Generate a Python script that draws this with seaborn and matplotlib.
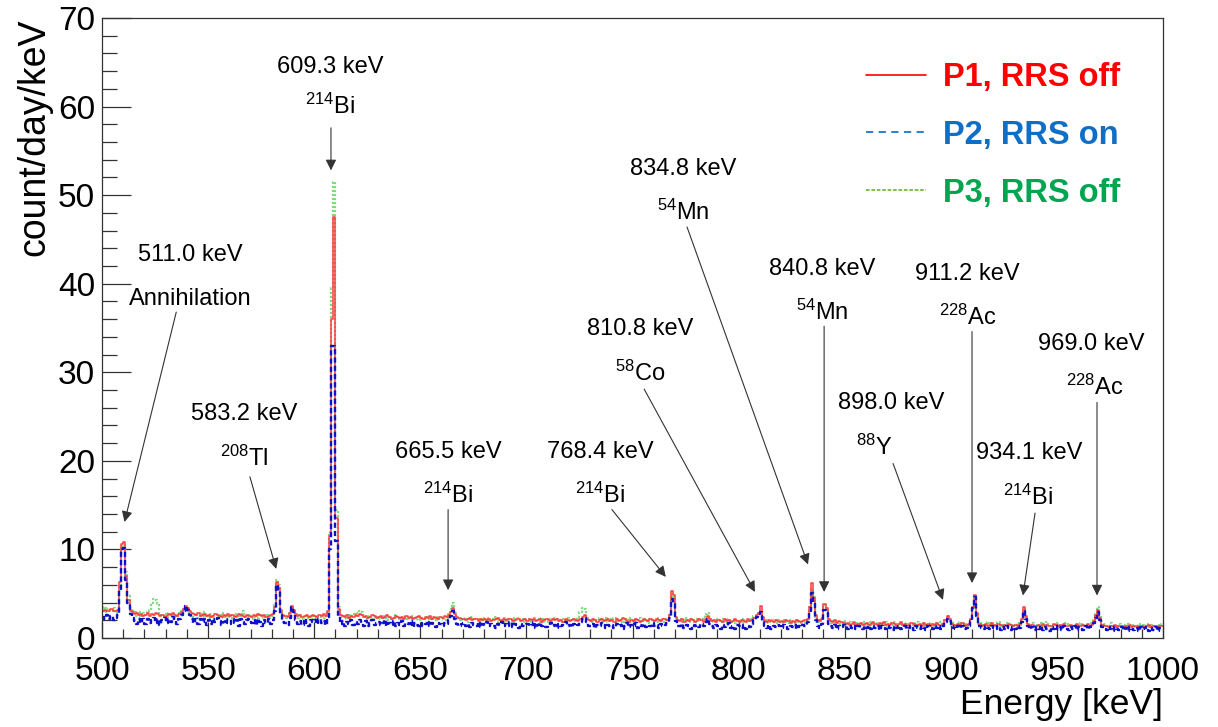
import matplotlib
matplotlib.use("Agg")
import numpy as np
import pandas as pd
import matplotlib.pyplot as plt
import seaborn as sns
from matplotlib.lines import Line2D

# Gamma-ray spectra, 1 keV bins starting at 500 keV (count/day/keV)
E_START = 500
BIN_WIDTH = 1

p1_rrs_off = [
    3.1, 3.2, 3.0, 3.1, 3.3, 3.0, 3.1, 3.2, 6.3, 10.6,
    10.8, 7.0, 4.3, 3.1, 2.9, 2.7, 2.8, 2.6, 2.7, 2.5,
    2.6, 2.8, 2.5, 2.7, 2.6, 2.8, 2.7, 2.5, 2.6, 2.4,
    2.5, 2.7, 2.6, 2.8, 2.6, 2.5, 2.7, 2.9, 3.3, 3.6,
    3.4, 3.0, 2.8, 2.7, 2.6, 2.8, 2.5, 2.6, 2.7, 2.5,
    2.6, 2.4, 2.5, 2.7, 2.6, 2.5, 2.4, 2.6, 2.5, 2.7,
    2.5, 2.6, 2.4, 2.5, 2.7, 2.6, 2.5, 2.4, 2.6, 2.5,
    2.4, 2.6, 2.5, 2.7, 2.6, 2.5, 2.6, 2.4, 2.5, 2.6,
    2.7, 3.5, 6.3, 5.7, 3.1, 2.6, 2.5, 2.4, 2.8, 3.6,
    3.2, 2.7, 2.5, 2.6, 2.4, 2.5, 2.6, 2.4, 2.5, 2.6,
    2.5, 2.4, 2.6, 2.5, 2.7, 2.5, 3.1, 11.5, 36.0, 47.5,
    13.5, 3.3, 2.6, 2.5, 2.4, 2.6, 2.3, 2.5, 2.4, 2.6,
    2.5, 2.7, 2.6, 2.4, 2.5, 2.3, 2.4, 2.6, 2.5, 2.3,
    2.4, 2.5, 2.3, 2.4, 2.6, 2.4, 2.2, 2.3, 2.5, 2.4,
    2.3, 2.4, 2.2, 2.5, 2.3, 2.4, 2.2, 2.3, 2.4, 2.5,
    2.3, 2.2, 2.4, 2.3, 2.5, 2.2, 2.4, 2.3, 2.2, 2.4,
    2.3, 2.5, 2.4, 2.6, 2.9, 3.4, 2.7, 2.4, 2.3, 2.2,
    2.2, 2.0, 2.1, 2.3, 2.0, 2.1, 2.2, 1.9, 2.1, 2.0,
    2.1, 2.0, 2.2, 1.9, 2.0, 2.1, 2.3, 2.0, 1.9, 2.1,
    2.0, 2.2, 2.1, 1.9, 2.0, 2.2, 2.1, 1.9, 2.0, 2.1,
    1.9, 2.1, 2.0, 2.2, 1.9, 2.0, 2.1, 1.8, 2.0, 2.1,
    2.0, 1.9, 2.1, 2.0, 2.2, 1.9, 2.0, 1.8, 2.1, 2.0,
    1.9, 2.0, 2.2, 2.0, 1.9, 2.1, 2.4, 2.6, 2.2, 2.0,
    1.9, 2.1, 2.0, 1.8, 2.0, 2.2, 1.9, 2.0, 2.1, 1.9,
    2.0, 1.8, 2.1, 1.9, 2.0, 2.3, 2.1, 1.9, 1.8, 2.0,
    1.9, 2.1, 2.0, 1.8, 1.9, 2.1, 2.0, 1.9, 2.2, 2.0,
    1.9, 2.1, 2.0, 1.9, 2.2, 2.1, 2.0, 2.6, 5.3, 4.8,
    2.4, 2.0, 1.9, 2.1, 1.8, 2.0, 1.9, 2.1, 2.0, 1.8,
    1.9, 2.1, 2.0, 1.8, 2.2, 2.5, 2.2, 1.9, 2.0, 1.8,
    2.0, 1.9, 1.8, 2.1, 1.9, 2.0, 1.8, 1.9, 2.1, 1.9,
    1.8, 2.0, 1.9, 1.8, 2.1, 1.9, 2.0, 2.3, 2.6, 2.8,
    3.6, 2.4, 1.9, 1.8, 2.0, 1.9, 1.8, 2.0, 1.9, 1.8,
    1.9, 1.8, 2.0, 1.9, 1.7, 1.9, 1.8, 2.0, 1.9, 1.8,
    1.9, 2.0, 2.2, 3.5, 6.2, 4.5, 2.6, 2.0, 1.9, 2.2,
    3.8, 3.4, 2.2, 1.9, 1.8, 2.0, 1.7, 1.9, 1.8, 1.7,
    1.6, 1.7, 1.5, 1.6, 1.8, 1.5, 1.6, 1.7, 1.5, 1.6,
    1.7, 1.5, 1.6, 1.8, 1.6, 1.5, 1.7, 1.6, 1.8, 1.5,
    1.6, 1.5, 1.7, 1.6, 1.4, 1.6, 1.8, 1.5, 1.6, 1.4,
    1.5, 1.7, 1.6, 1.4, 1.5, 1.6, 1.4, 1.7, 1.5, 1.6,
    1.4, 1.6, 1.5, 1.7, 1.5, 1.4, 1.6, 2.0, 2.5, 2.2,
    1.6, 1.5, 1.4, 1.6, 1.5, 1.7, 1.4, 1.5, 1.6, 2.1,
    3.5, 4.8, 2.8, 1.6, 1.4, 1.5, 1.6, 1.4, 1.5, 1.7,
    1.5, 1.4, 1.6, 1.5, 1.3, 1.5, 1.4, 1.6, 1.5, 1.4,
    1.5, 1.3, 1.6, 2.2, 3.5, 2.5, 1.6, 1.4, 1.5, 1.3,
    1.4, 1.5, 1.3, 1.6, 1.4, 1.5, 1.3, 1.4, 1.6, 1.5,
    1.3, 1.5, 1.4, 1.6, 1.3, 1.4, 1.5, 1.3, 1.4, 1.6,
    1.4, 1.3, 1.5, 1.4, 1.6, 1.3, 1.5, 1.9, 2.6, 3.2,
    2.3, 1.5, 1.3, 1.4, 1.2, 1.4, 1.3, 1.5, 1.2, 1.4,
    1.3, 1.2, 1.4, 1.3, 1.5, 1.2, 1.3, 1.4, 1.2, 1.3,
    1.4, 1.2, 1.3, 1.5, 1.2, 1.3, 1.4, 1.2, 1.3, 1.4,
]

p2_rrs_on = [
    2.4, 2.2, 2.6, 2.1, 2.5, 2.0, 2.3, 2.6, 5.5, 10.1,
    10.2, 6.6, 3.9, 2.7, 2.3, 1.9, 1.6, 2.2, 1.7, 2.1,
    1.6, 2.1, 1.7, 2.0, 2.3, 1.7, 2.1, 1.5, 2.0, 2.3,
    1.7, 2.1, 1.8, 2.4, 1.9, 1.6, 2.2, 2.6, 3.1, 3.6,
    3.2, 2.6, 2.2, 1.7, 2.1, 1.6, 2.2, 1.8, 2.1, 1.5,
    2.0, 1.6, 2.2, 1.8, 2.3, 1.9, 1.5, 1.8, 2.1, 1.7,
    1.6, 2.1, 1.7, 2.0, 1.4, 2.1, 1.8, 1.6, 2.0, 2.2,
    1.7, 2.0, 1.5, 2.1, 1.8, 1.4, 2.0, 1.7, 2.2, 1.6,
    2.0, 3.1, 6.0, 5.3, 2.6, 1.8, 1.7, 1.5, 2.3, 3.5,
    2.9, 2.0, 1.6, 1.9, 1.5, 2.1, 1.7, 1.4, 2.0, 1.8,
    2.0, 1.6, 2.1, 1.7, 1.9, 1.5, 2.4, 10.0, 33.0, 33.0,
    11.0, 2.5, 1.6, 1.9, 1.4, 1.8, 1.6, 2.0, 1.5, 1.8,
    1.6, 2.0, 1.7, 1.4, 1.9, 1.4, 1.7, 2.0, 1.5, 1.7,
    1.8, 1.5, 1.7, 2.0, 1.3, 1.7, 1.5, 1.9, 1.4, 1.7,
    1.5, 1.9, 1.4, 1.7, 1.6, 1.9, 1.2, 1.7, 1.5, 1.4,
    1.7, 1.4, 1.6, 1.9, 1.3, 1.7, 1.5, 1.2, 1.7, 1.6,
    1.4, 1.7, 1.6, 2.0, 2.5, 3.1, 2.2, 1.6, 1.3, 1.6,
    1.7, 1.4, 1.6, 1.2, 1.7, 1.5, 1.4, 1.8, 1.2, 1.6,
    1.5, 1.8, 1.3, 1.6, 1.4, 1.1, 1.6, 1.5, 1.8, 1.3,
    1.6, 1.4, 1.8, 1.2, 1.6, 1.5, 1.1, 1.6, 1.4, 1.3,
    1.6, 1.3, 1.5, 1.8, 1.1, 1.5, 1.7, 1.3, 1.5, 1.2,
    1.5, 1.7, 1.3, 1.5, 1.1, 1.6, 1.3, 1.5, 1.8, 1.3,
    1.5, 1.2, 1.6, 1.3, 1.5, 1.8, 2.1, 2.3, 1.8, 1.4,
    1.3, 1.6, 1.1, 1.5, 1.3, 1.7, 1.5, 1.1, 1.5, 1.3,
    1.5, 1.1, 1.6, 1.3, 1.5, 1.0, 1.4, 1.7, 1.2, 1.5,
    1.3, 1.7, 1.1, 1.5, 1.3, 1.6, 1.2, 1.5, 1.3, 1.7,
    1.3, 1.5, 1.1, 1.6, 1.3, 1.5, 1.7, 2.3, 4.4, 4.0,
    1.9, 1.4, 1.3, 1.6, 1.1, 1.5, 1.3, 1.0, 1.5, 1.3,
    1.5, 1.2, 1.6, 1.3, 1.8, 2.1, 1.6, 1.3, 1.1, 1.5,
    1.3, 1.0, 1.5, 1.2, 1.4, 1.7, 1.1, 1.4, 1.0, 1.5,
    1.3, 1.1, 1.5, 1.0, 1.4, 1.2, 1.6, 2.0, 2.4, 2.7,
    2.9, 1.8, 1.3, 1.1, 1.5, 1.0, 1.4, 1.2, 1.5, 1.3,
    1.1, 1.5, 1.3, 1.0, 1.4, 1.2, 1.5, 1.0, 1.4, 1.2,
    1.5, 1.3, 1.8, 3.1, 5.1, 4.0, 2.0, 1.4, 1.1, 1.6,
    3.2, 2.8, 1.6, 1.3, 1.1, 1.5, 1.0, 1.4, 1.2, 1.5,
    1.3, 1.0, 1.4, 1.1, 1.3, 1.0, 1.4, 1.1, 1.0, 1.3,
    1.1, 1.4, 1.0, 1.3, 1.1, 1.4, 0.9, 1.3, 1.1, 1.0,
    1.3, 1.1, 0.9, 1.4, 1.1, 1.3, 1.0, 1.1, 1.4, 1.0,
    1.1, 1.3, 0.9, 1.4, 1.1, 1.0, 1.3, 1.1, 0.9, 1.3,
    1.1, 1.0, 1.3, 1.1, 1.4, 1.0, 1.3, 1.8, 2.2, 1.9,
    1.3, 1.1, 1.0, 1.3, 1.1, 1.4, 1.0, 1.1, 1.3, 1.9,
    3.4, 4.6, 2.5, 1.4, 1.1, 1.0, 1.3, 1.1, 1.0, 1.3,
    1.1, 1.0, 1.3, 0.9, 1.2, 1.0, 1.3, 1.1, 0.9, 1.2,
    1.0, 1.3, 1.1, 1.8, 3.0, 2.2, 1.3, 1.0, 1.2, 0.9,
    1.2, 1.0, 1.3, 0.9, 1.2, 1.0, 0.8, 1.2, 1.0, 1.3,
    1.0, 1.2, 0.9, 1.3, 1.0, 0.9, 1.2, 1.0, 1.3, 0.9,
    1.2, 1.0, 0.9, 1.3, 1.0, 1.2, 1.4, 1.7, 2.3, 2.9,
    2.0, 1.2, 1.0, 0.9, 1.2, 1.0, 0.8, 1.2, 1.0, 0.9,
    1.2, 0.9, 1.1, 0.8, 1.2, 1.0, 0.9, 1.1, 0.8, 1.2,
    1.0, 1.1, 1.2, 0.8, 1.1, 0.9, 1.2, 0.8, 1.1, 1.2,
]

p3_rrs_off = [
    3.1, 3.5, 2.9, 3.3, 3.0, 3.4, 2.8, 3.2, 6.0, 10.4,
    10.7, 7.5, 4.7, 3.3, 2.7, 3.0, 2.5, 2.9, 2.4, 2.8,
    2.6, 2.9, 3.2, 3.9, 4.4, 4.3, 3.8, 2.7, 2.5, 2.7,
    2.4, 2.8, 2.5, 2.3, 2.7, 2.4, 2.8, 3.0, 3.3, 3.4,
    3.1, 2.8, 2.5, 2.4, 2.7, 2.3, 2.6, 2.9, 2.4, 2.6,
    2.3, 2.7, 2.4, 2.2, 2.6, 2.4, 2.8, 2.3, 2.6, 2.2,
    2.6, 2.3, 2.7, 2.4, 2.2, 2.5, 3.1, 2.4, 2.3, 2.6,
    2.4, 2.2, 2.6, 2.3, 2.7, 2.4, 2.3, 2.6, 2.2, 2.4,
    2.5, 3.7, 6.6, 6.0, 3.2, 2.4, 2.3, 2.5, 2.8, 3.4,
    3.1, 2.5, 2.3, 2.6, 2.2, 2.0, 2.5, 2.3, 2.4, 2.1,
    2.5, 2.2, 2.4, 2.6, 2.3, 2.5, 3.1, 12.0, 39.5, 51.5,
    14.5, 3.5, 2.6, 2.4, 2.5, 2.2, 2.6, 2.3, 2.7, 2.5,
    2.8, 3.0, 2.9, 2.6, 2.4, 2.2, 2.5, 2.1, 2.4, 2.3,
    2.4, 2.1, 2.5, 2.3, 2.0, 2.4, 2.1, 2.3, 2.6, 2.1,
    2.3, 2.0, 2.4, 2.1, 2.3, 2.5, 2.0, 2.3, 2.1, 2.4,
    2.0, 2.3, 2.1, 2.4, 2.0, 2.3, 2.1, 2.0, 2.4, 2.1,
    2.2, 2.0, 2.3, 2.7, 3.3, 3.9, 2.8, 2.3, 2.0, 2.1,
    2.0, 2.3, 1.8, 2.1, 2.4, 2.0, 2.2, 2.1, 1.8, 2.3,
    2.1, 1.8, 2.3, 2.0, 2.1, 2.4, 1.8, 2.1, 2.0, 2.3,
    1.8, 2.1, 2.0, 2.3, 1.8, 2.0, 2.3, 2.0, 2.1, 1.8,
    2.1, 2.0, 1.8, 2.3, 2.0, 2.1, 1.8, 2.3, 2.0, 1.8,
    2.1, 1.8, 2.0, 2.3, 2.1, 2.0, 1.8, 2.1, 2.0, 2.3,
    2.0, 2.1, 1.9, 2.2, 2.4, 2.9, 3.4, 3.3, 2.5, 2.1,
    2.0, 1.8, 2.1, 2.0, 2.3, 1.8, 2.0, 2.3, 1.8, 2.1,
    2.0, 2.3, 1.8, 2.1, 2.0, 1.7, 2.1, 2.0, 2.3, 1.8,
    2.1, 1.8, 2.0, 2.3, 1.8, 2.1, 2.0, 1.7, 2.1, 1.8,
    2.0, 2.3, 1.8, 2.0, 2.1, 1.8, 2.2, 2.8, 5.0, 4.6,
    2.3, 2.0, 2.1, 1.8, 2.0, 2.3, 1.8, 2.1, 2.0, 1.8,
    2.1, 2.0, 2.2, 2.4, 2.7, 2.8, 2.4, 2.0, 1.8, 2.1,
    2.0, 1.8, 2.1, 2.0, 1.7, 2.1, 1.8, 2.0, 1.7, 2.0,
    1.8, 2.1, 1.7, 2.0, 1.8, 2.1, 2.2, 2.5, 2.7, 2.8,
    3.0, 2.2, 1.8, 2.0, 1.7, 2.0, 1.8, 1.7, 2.0, 1.8,
    1.7, 2.0, 1.8, 1.7, 2.0, 1.8, 1.7, 2.0, 1.8, 1.7,
    1.9, 1.7, 2.2, 3.5, 5.5, 4.6, 2.4, 1.8, 2.0, 2.3,
    3.7, 3.4, 2.1, 1.7, 1.9, 1.6, 1.9, 1.7, 1.6, 1.9,
    1.5, 1.6, 1.8, 1.5, 1.6, 1.4, 1.7, 1.5, 1.8, 1.5,
    1.6, 1.4, 1.8, 1.5, 1.7, 1.5, 1.4, 1.7, 1.5, 1.8,
    1.4, 1.7, 1.5, 1.8, 1.5, 1.4, 1.7, 1.5, 1.4, 1.7,
    1.5, 1.4, 1.7, 1.5, 1.8, 1.4, 1.5, 1.7, 1.4, 1.5,
    1.7, 1.4, 1.5, 1.7, 1.4, 1.8, 1.5, 2.0, 2.5, 2.1,
    1.5, 1.7, 1.4, 1.5, 1.8, 1.4, 1.7, 1.5, 1.4, 2.0,
    3.4, 4.8, 2.8, 1.5, 1.7, 1.4, 1.5, 1.8, 1.4, 1.7,
    1.4, 1.5, 1.8, 1.4, 1.5, 1.3, 1.7, 1.4, 1.5, 1.3,
    1.4, 1.7, 1.5, 2.1, 3.3, 2.4, 1.5, 1.4, 1.7, 1.3,
    1.5, 1.4, 1.7, 1.3, 1.5, 1.8, 1.4, 1.5, 1.3, 1.7,
    1.4, 1.3, 1.5, 1.4, 1.7, 1.3, 1.5, 1.4, 1.3, 1.5,
    1.4, 1.7, 1.3, 1.5, 1.4, 1.3, 1.7, 2.0, 2.7, 3.5,
    2.5, 1.5, 1.6, 1.3, 1.4, 1.7, 1.3, 1.4, 1.2, 1.6,
    1.3, 1.5, 1.2, 1.6, 1.3, 1.5, 1.2, 1.3, 1.6, 1.2,
    1.5, 1.3, 1.6, 1.2, 1.5, 1.3, 1.2, 1.5, 1.3, 1.6,
]

series_names = ["P1, RRS off", "P2, RRS on", "P3, RRS off"]

# Identified gamma lines: energy label and source
line_labels = ["511.0 keV", "583.2 keV", "609.3 keV", "665.5 keV", "768.4 keV",
               "810.8 keV", "834.8 keV", "840.8 keV", "898.0 keV", "911.2 keV",
               "934.1 keV", "969.0 keV"]
line_sources = ["Annihilation", r"$^{208}$Tl", r"$^{214}$Bi", r"$^{214}$Bi", r"$^{214}$Bi",
                r"$^{58}$Co", r"$^{54}$Mn", r"$^{54}$Mn", r"$^{88}$Y", r"$^{228}$Ac",
                r"$^{214}$Bi", r"$^{228}$Ac"]

# Annotation layout: (energy-label x, y), (source x, y), arrow tail (x, y), arrow head (x, y)
label_layout = [
    ((541.5, 43.2), (541.5, 38.3), (535.0, 36.8), (510.6, 13.1)),
    ((567.0, 25.3), (567.0, 20.3), (569.7, 18.2), (582.1, 7.8)),
    ((607.4, 64.5), (607.4, 60.0), (607.9, 57.6), (607.9, 52.8)),
    ((663.0, 21.0), (663.0, 16.1), (663.1, 14.5), (663.1, 5.4)),
    ((734.7, 21.0), (734.7, 16.1), (740.3, 14.5), (765.7, 6.9)),
    ((753.5, 34.9), (753.5, 29.9), (755.5, 28.1), (807.7, 5.2)),
    ((774.0, 53.0), (774.0, 48.1), (775.7, 46.4), (832.7, 8.3)),
    ((839.5, 41.7), (839.5, 36.8), (840.3, 35.2), (840.3, 5.2)),
    ((872.0, 26.5), (864.0, 21.5), (872.8, 19.7), (896.3, 4.3)),
    ((908.0, 41.1), (908.0, 36.2), (910.0, 34.6), (910.0, 6.2)),
    ((937.0, 20.9), (936.5, 15.9), (939.7, 14.1), (934.0, 4.8)),
    ((966.0, 33.2), (968.0, 28.3), (968.9, 26.6), (968.9, 4.8)),
]

sns.set_theme(style="ticks")
plt.rcParams["font.family"] = ["Liberation Sans", "DejaVu Sans"]
plt.rcParams["mathtext.fontset"] = "custom"
plt.rcParams["mathtext.rm"] = "Liberation Sans"
plt.rcParams["mathtext.it"] = "Liberation Sans:italic"
plt.rcParams["mathtext.bf"] = "Liberation Sans:bold"
plt.rcParams["text.color"] = "black"
plt.rcParams["axes.labelcolor"] = "black"

fig = plt.figure(figsize=(12.18, 7.27), dpi=100)
ax = fig.add_axes([102 / 1218, 1 - 638 / 727, (1163 - 102) / 1218, (638 - 18) / 727])

n_bins = len(p1_rrs_off)
centers = E_START + BIN_WIDTH * (np.arange(n_bins) + 0.5)
spectra = {"P1, RRS off": p1_rrs_off, "P2, RRS on": p2_rrs_on, "P3, RRS off": p3_rrs_off}

styles = {
    "P3, RRS off": dict(color="#80da80", linestyle=(0, (1.0, 0.8)), linewidth=1.6),
    "P1, RRS off": dict(color="#ff3b3b", linestyle="-", linewidth=1.1),
    "P2, RRS on": dict(color="#1010c8", linestyle=(0, (2.2, 1.3)), linewidth=1.7),
}

for name in ["P3, RRS off", "P1, RRS off", "P2, RRS on"]:
    df = pd.DataFrame({"energy": centers, "rate": spectra[name]})
    sns.histplot(data=df, x="energy", weights="rate", binwidth=BIN_WIDTH,
                 binrange=(E_START, E_START + n_bins * BIN_WIDTH),
                 element="step", fill=False, ax=ax, **styles[name])

ax.set_xlim(500, 1000)
ax.set_ylim(0, 70)
ax.set_xticks(np.arange(500, 1001, 50))
ax.set_xticks(np.arange(500, 1001, 10), minor=True)
ax.set_yticks(np.arange(0, 71, 10))
ax.set_yticks(np.arange(0, 71, 2), minor=True)
ax.tick_params(axis="both", which="both", direction="in", colors="#333333",
               labelcolor="black", width=0.9, labelsize=24)
ax.tick_params(axis="y", which="major", length=21, pad=5)
ax.tick_params(axis="y", which="minor", length=10.5)
ax.tick_params(axis="x", which="major", length=11.5, pad=13)
ax.tick_params(axis="x", which="minor", length=6.5)
for sp in ax.spines.values():
    sp.set_color("#333333")
    sp.set_linewidth(0.9)

ax.set_xlabel("Energy [keV]", loc="right", fontsize=25.5, labelpad=1)
ax.set_ylabel("count/day/keV", loc="top", fontsize=27, labelpad=4)

for lab, src, (p_lab, p_src, tail, head) in zip(line_labels, line_sources, label_layout):
    ax.text(*p_lab, lab, ha="center", va="center", fontsize=17)
    ax.text(*p_src, src, ha="center", va="center", fontsize=17)
    ax.annotate("", xy=head, xytext=tail,
                arrowprops=dict(arrowstyle="-|>", color="#333333", lw=0.8,
                                mutation_scale=16, shrinkA=0, shrinkB=0))

legend_handles = [
    Line2D([], [], color="#ff0000", linestyle="-", linewidth=1.2),
    Line2D([], [], color="#1b74c9", linestyle=(0, (4, 3)), linewidth=1.3),
    Line2D([], [], color="#76b843", linestyle=(0, (2, 1)), linewidth=1.3),
]
leg = ax.legend(legend_handles, series_names, loc="upper left",
                bbox_to_anchor=(866 / 1218, 1 - 62 / 727), bbox_transform=fig.transFigure,
                frameon=False, borderpad=0, borderaxespad=0, handlelength=1.85,
                handletextpad=0.5, labelspacing=0.82,
                prop={"weight": "bold", "size": 23.5},
                labelcolor=["#ff0000", "#0f6fc6", "#00a550"])

fig.savefig("out.png", dpi=100)
